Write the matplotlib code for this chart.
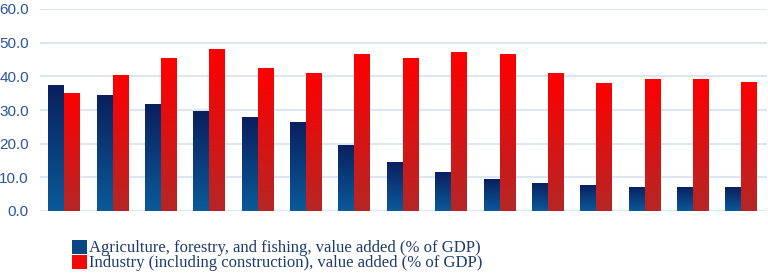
import matplotlib.pyplot as plt
import matplotlib.patches as mpatches
import numpy as np
from matplotlib.colors import LinearSegmentedColormap

# Data
agriculture = [37.4, 34.6, 31.8, 29.7, 27.9, 26.5, 19.7, 14.6, 11.7, 9.4,
               8.4, 7.8, 7.2, 7.2, 7.1]
industry = [35.1, 40.3, 45.4, 48.2, 42.6, 41.0, 46.7, 45.5, 47.1, 46.5,
            40.9, 37.9, 39.2, 39.2, 38.2]
labels = ['Agriculture, forestry, and fishing, value added (% of GDP)',
          'Industry (including construction), value added (% of GDP)']
yticks = [0, 10, 20, 30, 40, 50, 60]

# Colours
TEXT = '#1F3B6E'
TICK = '#2A5599'
GRID = '#DCE6F2'
blue_cmap = LinearSegmentedColormap.from_list('b', ['#0A5A99', '#0A1F5E'])
red_cmap = LinearSegmentedColormap.from_list('r', ['#B52626', '#FF0000'])

fig = plt.figure(figsize=(7.68, 2.79), dpi=100)
ax = fig.add_axes([40 / 768, 1 - 211 / 279, (767 - 40) / 768, 202 / 279])

x = np.arange(len(agriculture))
w = 0.33
bars_a = ax.bar(x - w / 2, agriculture, w, color='#0A3C7A', edgecolor='none', zorder=2)
bars_i = ax.bar(x + w / 2, industry, w, color='#E01010', edgecolor='none', zorder=2)

# Vertical gradient fill clipped to each bar
grad = np.linspace(0, 1, 256).reshape(-1, 1)
for bars, cmap in [(bars_a, blue_cmap), (bars_i, red_cmap)]:
    for b in bars:
        x0, y0 = b.get_x(), b.get_y()
        im = ax.imshow(grad, cmap=cmap, aspect='auto', origin='lower',
                       extent=[x0, x0 + b.get_width(), y0, y0 + b.get_height()],
                       zorder=3)
        im.set_clip_path(b)

ax.set_xlim(-0.5, 14.53)
ax.set_ylim(0, 60)
ax.set_yticks(yticks)
ax.set_yticklabels([f'{v:.1f}' for v in yticks], color=TICK, fontsize=11,
                   family='Liberation Sans')
ax.set_xticks([])
ax.tick_params(axis='y', length=0, pad=8)
ax.grid(axis='y', color=GRID, linewidth=1.5, zorder=0)
ax.set_axisbelow(True)
for s in ax.spines.values():
    s.set_visible(False)

handles = [mpatches.Patch(facecolor='#0A4585', label=labels[0]),
           mpatches.Patch(facecolor='#F00A0A', label=labels[1])]
fig.legend(handles=handles, loc='upper left', bbox_to_anchor=(60 / 768, 1 - 228 / 279),
           frameon=False, handlelength=0.9, handleheight=0.9,
           handletextpad=0.15, labelspacing=-0.1, borderpad=0.2,
           prop={'family': 'Liberation Serif', 'size': 12}, labelcolor=TEXT)

fig.savefig('out.png', dpi=100, facecolor='white')
